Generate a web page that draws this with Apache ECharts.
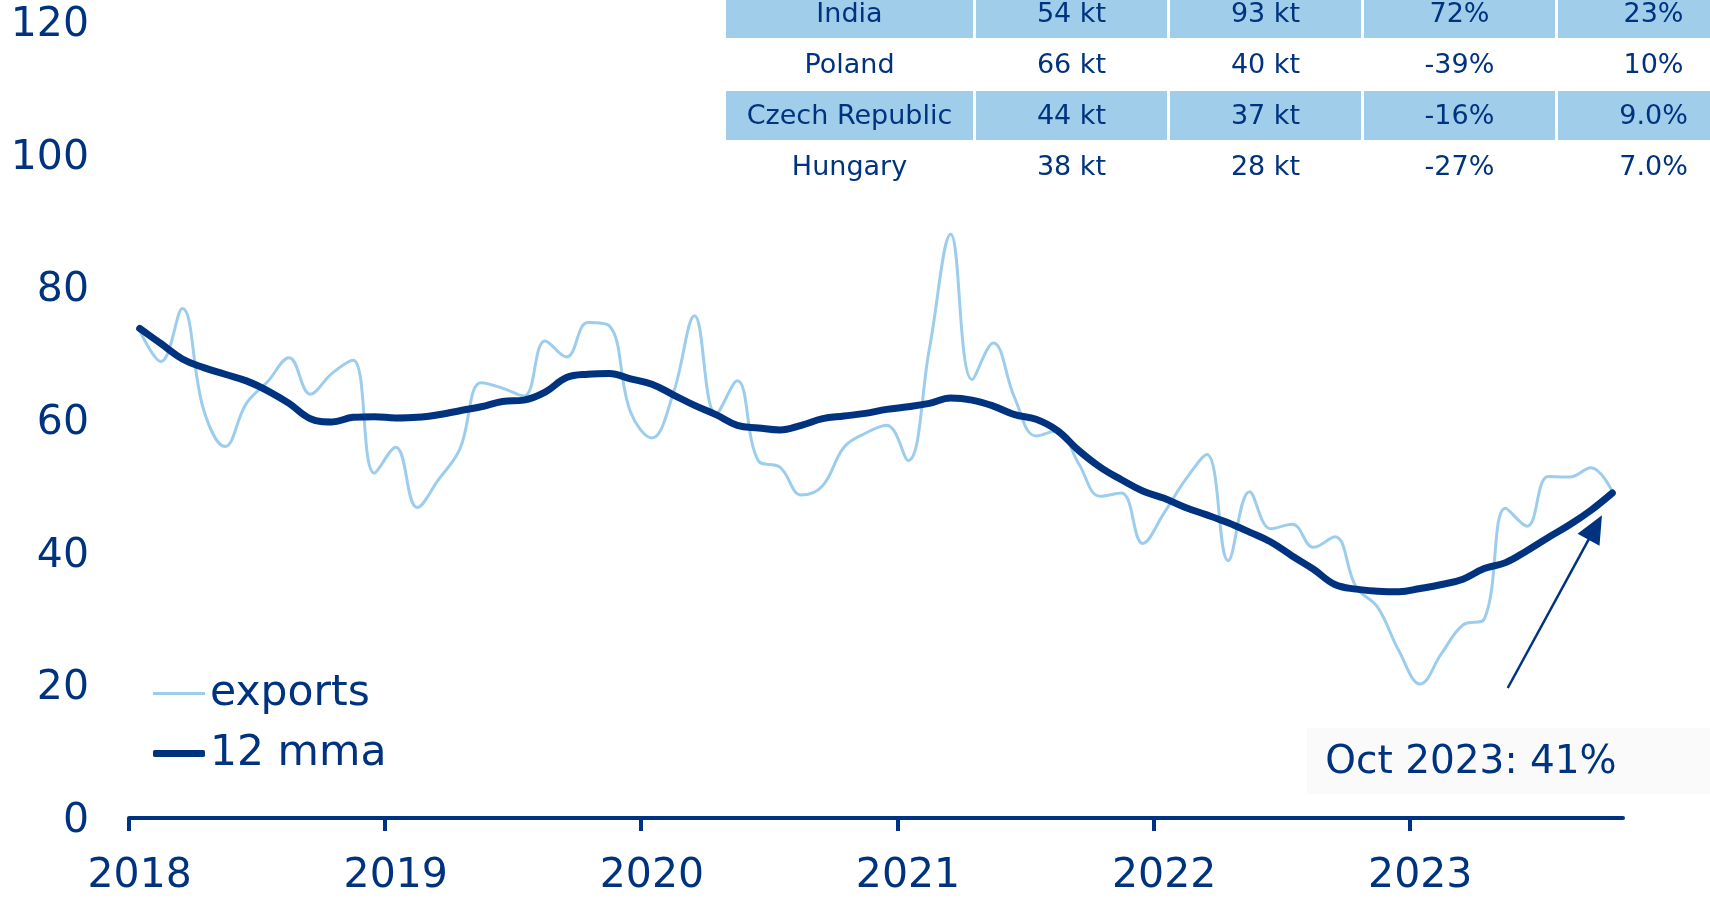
<!DOCTYPE html>
<html>
<head>
<meta charset="utf-8">
<title>exports</title>
<script src="https://cdn.jsdelivr.net/npm/echarts@6/dist/echarts.min.js"></script>
<style>
  html, body { margin: 0; padding: 0; background: #fff; }
  #chart { width: 1710px; height: 900px; }
</style>
</head>
<body>
<div id="chart"></div>
<script>
// monthly data, Jan 2018 .. Oct 2023
const startYear = 2018;
const years = ["2018", "2019", "2020", "2021", "2022", "2023"];
const exportsKt = [
  73.5, 68.8, 76.8, 61.5, 56.0, 62.5, 65.8, 69.4, 63.9, 67.0, 69.0, 52.0,
  55.9, 46.8, 51.0, 55.6, 65.6, 64.8, 63.6, 71.9, 69.5, 74.7, 74.2, 61.2,
  57.3, 64.0, 75.7, 60.9, 65.9, 53.8, 52.9, 48.7, 50.1, 55.9, 58.0, 59.2,
  53.9, 70.7, 88.0, 66.1, 71.6, 63.3, 57.6, 58.4, 53.4, 48.5, 49.0, 41.4,
  46.0, 51.0, 54.8, 38.8, 49.2, 43.6, 44.3, 40.8, 42.4, 34.8, 31.8, 25.2,
  20.2, 24.8, 29.1, 30.0, 46.7, 44.0, 51.5, 51.4, 52.8, 49.2
];
const mma12 = [
  73.8, 71.5, 69.2, 67.9, 66.9, 65.9, 64.4, 62.5, 60.2, 59.7, 60.4, 60.5,
  60.3, 60.4, 60.8, 61.4, 62.0, 62.8, 63.0, 64.2, 66.4, 66.9, 67.0, 66.2,
  65.4, 63.8, 62.2, 60.8, 59.2, 58.8, 58.5, 59.2, 60.2, 60.6, 61.0, 61.6,
  62.0, 62.5, 63.3, 63.0, 62.1, 60.8, 60.1, 58.4, 55.4, 52.9, 51.0, 49.3,
  48.2, 46.8, 45.7, 44.5, 43.1, 41.6, 39.5, 37.5, 35.2, 34.5, 34.2, 34.1,
  34.6, 35.2, 36.0, 37.6, 38.5, 40.3, 42.3, 44.2, 46.4, 49.0
];

// table (top right)
const countries = ["India", "Poland", "Czech Republic", "Hungary"];
const volBefore = ["54 kt", "66 kt", "44 kt", "38 kt"];
const volNow = ["93 kt", "40 kt", "37 kt", "28 kt"];
const changePct = ["72%", "-39%", "-16%", "-27%"];
const sharePct = ["23%", "10%", "9.0%", "7.0%"];

// annotation: arrow from/to on the month axis (0 = start of Jan 2018) and value
const noteText = "Oct 2023: 41%";
const noteFrom = [64.6, 19.6];
const noteTo = [68.7, 43.8];

const navy = "#00337f";
const light = "#9dcdec";
const font = "DejaVu Sans, Verdana, sans-serif";

// table graphic
const colX = [726, 976, 1170, 1364, 1558];
const colW = [247, 191, 191, 191, 191];
const rowY = 15, rowH = 51;
const tableEls = [];
countries.forEach((c, i) => {
  const cy = rowY + i * rowH;
  const cells = [c, volBefore[i], volNow[i], changePct[i], sharePct[i]];
  cells.forEach((t, j) => {
    if (i % 2 === 0) {
      tableEls.push({
        type: "rect",
        shape: { x: colX[j], y: cy - 26, width: colW[j], height: 49 },
        style: { fill: "#9fcdea" },
        silent: true
      });
    }
    tableEls.push({
      type: "text",
      style: {
        text: t, x: colX[j] + colW[j] / 2, y: cy,
        fill: navy, font: "27px " + font,
        textAlign: "center", verticalAlign: "middle"
      },
      silent: true
    });
  });
});

const legendText = { fontSize: 42.5, color: navy, fontFamily: font };

const chart = echarts.init(document.getElementById("chart"));
chart.setOption({
  animation: false,
  backgroundColor: "#fff",
  textStyle: { fontFamily: font },
  grid: { left: 129, right: 87, top: 22, bottom: 82, outerBoundsMode: "none" },
  legend: [
    {
      data: ["exports"],
      left: 148,
      top: 667,
      icon: "rect",
      itemWidth: 52,
      itemHeight: 3,
      selectedMode: false,
      textStyle: legendText
    },
    {
      data: ["12 mma"],
      left: 148,
      top: 727,
      icon: "roundRect",
      itemWidth: 52,
      itemHeight: 7,
      selectedMode: false,
      textStyle: legendText
    }
  ],
  xAxis: {
    type: "value",
    min: 0,
    max: exportsKt.length,
    axisLine: { lineStyle: { color: navy, width: 4 } },
    axisTick: {
      length: 13,
      lineStyle: { color: navy, width: 4 },
      customValues: years.map((y, i) => i * 12)
    },
    axisLabel: {
      customValues: years.map((y, i) => i * 12 + 0.5),
      formatter: v => String(startYear + Math.floor(v / 12)),
      fontSize: 41,
      color: navy,
      margin: 38
    },
    splitLine: { show: false }
  },
  yAxis: {
    type: "value",
    min: 0,
    max: 120,
    interval: 20,
    axisLine: { show: false },
    axisTick: { show: false },
    splitLine: { show: false },
    axisLabel: {
      margin: 40,
      formatter: "{v|{value}}",
      rich: { v: { fontSize: 41, color: navy, fontFamily: font, padding: [7, 0, 0, 0] } }
    }
  },
  series: [
    {
      name: "exports",
      type: "line",
      data: exportsKt.map((v, i) => [i + 0.5, v]),
      symbol: "none",
      smooth: 0.4,
      lineStyle: { color: light, width: 3 },
      itemStyle: { color: light },
      z: 2
    },
    {
      name: "12 mma",
      type: "line",
      data: mma12.map((v, i) => [i + 0.5, v]),
      symbol: "none",
      smooth: 0.4,
      lineStyle: { color: navy, width: 7, cap: "round" },
      itemStyle: { color: navy },
      z: 3,
      markLine: {
        silent: true,
        symbol: ["none", "triangle"],
        symbolSize: [25, 28],
        lineStyle: { color: navy, width: 2.5, type: "solid" },
        label: { show: false },
        emphasis: { disabled: true },
        data: [[{ coord: noteFrom }, { coord: noteTo }]]
      }
    }
  ],
  graphic: {
    elements: tableEls.concat([
      {
        type: "rect",
        shape: { x: 1307, y: 728, width: 403, height: 66 },
        style: { fill: "#fafafa" },
        silent: true
      },
      {
        type: "text",
        style: {
          text: noteText, x: 1471, y: 763,
          fill: navy, font: "39px " + font,
          textAlign: "center", verticalAlign: "middle"
        },
        silent: true
      }
    ])
  }
});
</script>
</body>
</html>
